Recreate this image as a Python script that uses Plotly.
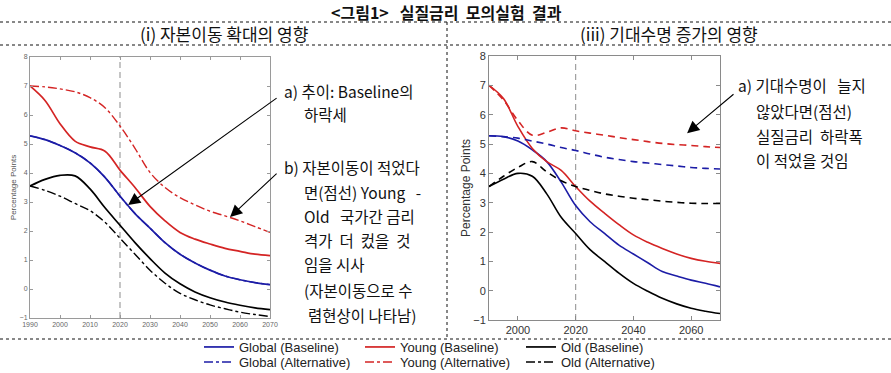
import plotly.graph_objects as go

# ---------------- data ----------------
years_l = [1990, 1995, 2000, 2005, 2010, 2015, 2020, 2025, 2030, 2035, 2040, 2045, 2050, 2055, 2060, 2065, 2070]
# (i) capital mobility panel
l_global_base = [5.28, 5.15, 4.95, 4.70, 4.35, 3.85, 3.20, 2.60, 2.10, 1.60, 1.20, 0.90, 0.65, 0.45, 0.32, 0.22, 0.15]
l_young_base = [7.00, 6.50, 5.70, 5.10, 4.90, 4.75, 4.10, 3.50, 2.85, 2.35, 1.95, 1.72, 1.55, 1.40, 1.30, 1.20, 1.15]
l_old_base = [3.55, 3.78, 3.92, 3.90, 3.45, 2.80, 2.20, 1.60, 1.05, 0.55, 0.18, -0.10, -0.30, -0.45, -0.56, -0.65, -0.71]
l_global_alt = [5.28, 5.15, 4.95, 4.70, 4.35, 3.85, 3.20, 2.60, 2.10, 1.60, 1.20, 0.90, 0.65, 0.45, 0.32, 0.22, 0.15]
l_young_alt = [7.00, 6.97, 6.90, 6.80, 6.60, 6.25, 5.62, 4.85, 4.02, 3.50, 3.15, 2.90, 2.68, 2.52, 2.35, 2.15, 1.95]
l_old_alt = [3.55, 3.40, 3.20, 2.95, 2.70, 2.30, 1.75, 1.20, 0.65, 0.20, -0.15, -0.37, -0.55, -0.68, -0.80, -0.88, -0.95]

years_r = [1990, 1995, 2000, 2005, 2010, 2015, 2020, 2025, 2030, 2035, 2040, 2045, 2050, 2055, 2060, 2065, 2070]
# (iii) life expectancy panel
r_global_base = [5.28, 5.25, 5.10, 4.80, 4.40, 3.70, 2.90, 2.35, 1.95, 1.55, 1.25, 0.95, 0.65, 0.50, 0.36, 0.25, 0.13]
r_young_base = [7.00, 6.55, 5.60, 4.85, 4.40, 4.10, 3.55, 3.05, 2.64, 2.25, 1.90, 1.65, 1.44, 1.25, 1.10, 1.00, 0.93]
r_old_base = [3.55, 3.80, 4.00, 3.90, 3.30, 2.50, 1.95, 1.40, 1.00, 0.60, 0.25, -0.02, -0.26, -0.45, -0.60, -0.70, -0.78]
r_global_alt = [5.28, 5.25, 5.20, 5.10, 5.00, 4.88, 4.78, 4.66, 4.55, 4.47, 4.40, 4.35, 4.30, 4.25, 4.20, 4.17, 4.15]
r_young_alt = [7.00, 6.50, 5.80, 5.30, 5.40, 5.55, 5.45, 5.37, 5.30, 5.22, 5.15, 5.08, 5.02, 4.98, 4.95, 4.91, 4.88]
r_old_alt = [3.55, 3.90, 4.20, 4.40, 4.05, 3.75, 3.55, 3.42, 3.30, 3.22, 3.15, 3.10, 3.05, 3.01, 2.98, 2.97, 2.97]

REF_YEAR = [2020]
series_names = ["Global (Baseline)", "Young (Baseline)", "Old (Baseline)",
                "Global (Alternative)", "Young (Alternative)", "Old (Alternative)"]
BLUE, RED, BLACK = "#1c1ca6", "#d42424", "#000000"

W, H = 891, 373
def px(x): return x / W
def py(y): return 1 - y / H

fig = go.Figure()

left = [l_global_base, l_young_base, l_old_base, l_global_alt, l_young_alt, l_old_alt]
colors = [BLUE, RED, BLACK, BLUE, RED, BLACK]
for i, vals in enumerate(left):
    fig.add_trace(go.Scatter(x=years_l, y=vals, mode="lines", name=series_names[i],
                             line=dict(color=colors[i], width=1.7 if i < 3 else 1.4,
                                       dash="solid" if i < 3 else "dashdot", shape="spline"),
                             legend="legend" if i < 3 else "legend2",
                             showlegend=True, xaxis="x", yaxis="y"))

right = [r_global_base, r_young_base, r_old_base, r_global_alt, r_young_alt, r_old_alt]
for i, vals in enumerate(right):
    fig.add_trace(go.Scatter(x=years_r, y=vals, mode="lines", name=series_names[i],
                             line=dict(color=colors[i], width=1.6, dash="solid" if i < 3 else "7px,5px",
                                       shape="spline"),
                             showlegend=False, xaxis="x2", yaxis="y2"))

axis_common = dict(showline=True, mirror="allticks", ticks="inside", showgrid=False, zeroline=False)
leg_common = dict(orientation="h", x=px(199), xanchor="left", yanchor="middle",
                  font=dict(size=13, color="#222", family="Liberation Sans, Arial, sans-serif"),
                  entrywidth=116, entrywidthmode="pixels", bgcolor="rgba(0,0,0,0)",
                  itemclick=False, itemdoubleclick=False, borderwidth=0)
fig.update_layout(
    width=W, height=H, margin=dict(l=0, r=0, t=0, b=0, autoexpand=False),
    paper_bgcolor="white", plot_bgcolor="white",
    font=dict(family="Liberation Sans, Arial, sans-serif", color="#222"),
    xaxis=dict(domain=[px(30), px(270)], range=[1990, 2070], dtick=10, tick0=1990,
               linecolor="#9a9a9a", tickcolor="#9a9a9a", ticklen=3,
               tickfont=dict(size=7, color="#666"), anchor="y", **axis_common),
    yaxis=dict(domain=[py(318), py(57)], range=[-1, 8], dtick=1,
               linecolor="#9a9a9a", tickcolor="#9a9a9a", ticklen=3,
               tickfont=dict(size=7, color="#666"), anchor="x",
               title=dict(text="Percentage Points", font=dict(size=8, color="#555"), standoff=1),
               **axis_common),
    xaxis2=dict(domain=[px(489), px(720)], range=[1990, 2070], dtick=20, tick0=2000,
                linecolor="#8a8a8a", tickcolor="#8a8a8a", ticklen=4,
                tickfont=dict(size=11, color="#333"), anchor="y2", **axis_common),
    yaxis2=dict(domain=[py(320), py(56)], range=[-1, 8], dtick=1,
                linecolor="#8a8a8a", tickcolor="#8a8a8a", ticklen=4,
                tickfont=dict(size=11, color="#333"), anchor="x2",
                title=dict(text="Percentage Points", font=dict(size=12, color="#333"), standoff=0),
                **axis_common),
    legend=dict(y=py(347), **leg_common),
    legend2=dict(y=py(362), **leg_common),
    showlegend=True,
)

# reference year lines
for xa, ya in [("x", "y"), ("x2", "y2")]:
    fig.add_shape(type="line", xref=xa, yref=f"{ya} domain", x0=REF_YEAR[0], x1=REF_YEAR[0], y0=0, y1=1,
                  line=dict(color="#a0a0a0", width=1.2, dash="6px,4px"), layer="below")

# dotted frame lines
dot = dict(color="#111", width=1, dash="dot")
for y in [22, 45, 339]:
    fig.add_shape(type="line", xref="paper", yref="paper", x0=0, x1=1, y0=py(y), y1=py(y), line=dot)
fig.add_shape(type="line", xref="paper", yref="paper", x0=px(447), x1=px(447), y0=py(22), y1=py(339), line=dot)

KR = "Noto Sans CJK KR"
def txt(x, y, s, size=15.5, bold=False, anchor="left"):
    fig.add_annotation(x=px(x), y=py(y), xref="paper", yref="paper", text=(f"<b>{s}</b>" if bold else s),
                       showarrow=False, xanchor=anchor, yanchor="middle", borderpad=0,
                       font=dict(family=KR, size=size, color="#111"))

NB = "\u00a0"
txt(446, 12, f"&lt;그림1&gt;{NB*3}실질금리{NB*2}모의실험{NB*2}결과", size=16, bold=True, anchor="center")
txt(224, 33, f"(i) 자본이동{NB}확대의{NB}영향", size=17, anchor="center")
txt(669, 33, f"(iii) 기대수명{NB}증가의{NB}영향", size=17, anchor="center")

left_notes = [(283, 91, "a) 추이: Baseline의"), (303, 114, "하락세"),
              (283, 167, "b) 자본이동이 적었다"), (303, 192, f"면(점선) Young{NB*3}-"),
              (303, 216, f"Old{NB*3}국가간 금리"), (303, 240, f"격가{NB*2}더{NB*2}컸을{NB*2}것"),
              (303, 264, "임을 시사"), (303, 290, "(자본이동으로 수"), (307, 315, "렴현상이 나타남)")]
for x, y, s in left_notes:
    txt(x, y, s)
right_notes = [(737, 85, f"a) 기대수명이{NB*3}늘지"), (755, 111, "않았다면(점선)"),
               (755, 136, f"실질금리{NB*2}하락폭"), (755, 160, "이 적었을 것임")]
for x, y, s in right_notes:
    txt(x, y, s)

# arrows
def arrow(xr, yr, x, y, ax, ay):
    fig.add_annotation(x=x, y=y, ax=ax, ay=ay, xref=xr, yref=yr, axref=xr, ayref=yr, text="",
                       showarrow=True, arrowhead=2, arrowsize=2.2, arrowwidth=1.1, arrowcolor="#000")
arrow("x", "y", 2022.7, 2.9, 2072.7, 6.62)
arrow("x", "y", 2056.7, 2.48, 2072.7, 4.03)
arrow("x2", "y2", 2058.6, 5.37, 2075.2, 6.74)

fig.write_html("out.html", config={"displayModeBar": False},
               post_script="document.body.style.margin='0';document.body.style.overflow='hidden';")
